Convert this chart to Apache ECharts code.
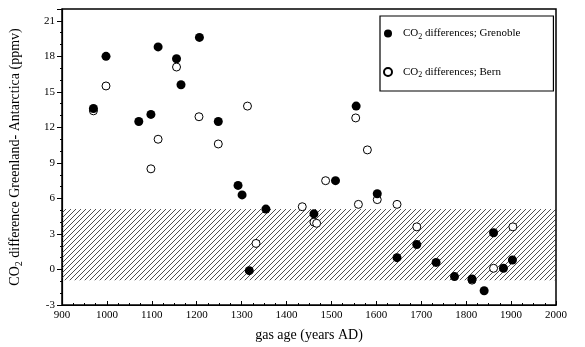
<!DOCTYPE html>
<html><head><meta charset="utf-8">
<script src="https://cdn.jsdelivr.net/npm/echarts@6/dist/echarts.min.js"></script>
<style>html,body{margin:0;padding:0;background:#fff}#c{width:585px;height:347px}</style>
</head><body><div id="c"></div>
<script>
// Tick labels / axis
const xTicks = [900,1000,1100,1200,1300,1400,1500,1600,1700,1800,1900,2000];
const yTicks = [-3,0,3,6,9,12,15,18,21];
// Grenoble (filled circles)
const grenobleYear = [970, 998, 1071, 1098, 1114, 1155, 1165, 1206, 1248, 1292, 1301, 1317, 1354, 1461, 1509, 1555, 1602, 1646, 1690, 1733, 1774, 1813, 1840, 1861, 1883, 1903];
const grenobleVal  = [13.6, 18.0, 12.5, 13.1, 18.8, 17.8, 15.6, 19.6, 12.5, 7.1, 6.3, -0.1, 5.1, 4.7, 7.5, 13.8, 6.4, 1.0, 2.1, 0.6, -0.6, -0.8, -1.8, 3.1, 0.1, 0.8];
// Bern (open circles)
const bernYear = [970, 998, 1098, 1114, 1155, 1205, 1248, 1313, 1332, 1435, 1461, 1467, 1487, 1554, 1560, 1580, 1602, 1646, 1690, 1813, 1861, 1904];
const bernVal  = [13.4, 15.5, 8.5, 11.0, 17.1, 12.9, 10.6, 13.8, 2.2, 5.3, 4.0, 3.9, 7.5, 12.8, 5.5, 10.1, 5.9, 5.5, 3.6, -0.9, 0.1, 3.6];
// Hatched band
const bandLow = -0.9, bandHigh = 5.1;

const nameG = 'CO2 differences; Grenoble';
const nameB = 'CO2 differences; Bern';
const font = "'Liberation Serif','DejaVu Serif',serif";

function hatch(){
  const s = 5, cv = document.createElement('canvas');
  cv.width = s; cv.height = s;
  const ctx = cv.getContext('2d');
  ctx.strokeStyle = '#222'; ctx.lineWidth = 0.8;
  [0, s, 2*s].forEach(c => {
    ctx.beginPath(); ctx.moveTo(c - s, s); ctx.lineTo(c, 0); ctx.stroke();
  });
  return cv;
}

const chart = echarts.init(document.getElementById('c'), null, {renderer:'canvas'});
chart.setOption({
  animation:false,
  backgroundColor:'#fff',
  grid:{left:58, right:29, top:9, bottom:42, show:true, borderColor:'#000', borderWidth:1.5, backgroundColor:'transparent'},
  legend:{
    orient:'vertical', left:380, top:16,
    data:[nameG, nameB],
    icon:'circle', itemWidth:8, itemHeight:8, itemGap:26,
    borderColor:'#000', borderWidth:1.2, padding:[12, 33, 12, 3],
    formatter: n => n.replace('CO2','CO{s|2}'),
    textStyle:{fontFamily:font, fontSize:11, color:'#000', padding:[0,0,0,6],
      rich:{s:{fontFamily:font, fontSize:8, color:'#000', verticalAlign:'bottom', padding:[6,0,0,0]}}}
  },
  xAxis:{
    type:'value', min:xTicks[0], max:xTicks[xTicks.length-1], interval:100,
    name:'gas age (years AD)', nameLocation:'middle', nameGap:23,
    nameTextStyle:{fontFamily:font, fontSize:14, color:'#000'},
    axisLine:{show:true, onZero:false, lineStyle:{color:'#000', width:1.2}},
    axisTick:{show:true, inside:true, length:4, lineStyle:{color:'#000'}},
    minorTick:{show:true, splitNumber:4, length:2, lineStyle:{color:'#000'}},
    splitLine:{show:false},
    axisLabel:{fontFamily:font, fontSize:11, color:'#000', margin:5, formatter: v => String(v)}
  },
  yAxis:{
    type:'value', min:yTicks[0], max:22, interval:3,
    name:'CO{s|2} difference Greenland- Antarctica (ppmv)', nameLocation:'middle', nameGap:38,
    nameTextStyle:{fontFamily:font, fontSize:14, color:'#000',
      rich:{s:{fontFamily:font, fontSize:10, color:'#000', verticalAlign:'bottom', padding:[8,0,0,0]}}},
    axisLine:{show:true, onZero:false, lineStyle:{color:'#000', width:1.2}},
    axisTick:{show:true, inside:false, length:5, lineStyle:{color:'#000'}},
    minorTick:{show:true, splitNumber:3, length:2, lineStyle:{color:'#000'}},
    splitLine:{show:false},
    axisLabel:{fontFamily:font, fontSize:11, color:'#000', margin:7, showMaxLabel:false}
  },
  series:[
    {
      name:nameB, type:'scatter', z:2,
      symbol:'circle', symbolSize:8,
      itemStyle:{color:'#fff', borderColor:'#000', borderWidth:1, opacity:1},
      data: bernYear.map((x,i)=>[x, bernVal[i]]),
      markArea:{silent:true,
        itemStyle:{color:{image:hatch(), repeat:'repeat'}, borderWidth:0},
        data:[[{xAxis:xTicks[0], yAxis:bandLow},{xAxis:xTicks[xTicks.length-1], yAxis:bandHigh}]]}
    },
    {
      name:nameG, type:'scatter', z:3,
      symbol:'circle', symbolSize:9,
      itemStyle:{color:'#000', opacity:1},
      data: grenobleYear.map((x,i)=>[x, grenobleVal[i]])
    }
  ]
});
</script></body></html>
